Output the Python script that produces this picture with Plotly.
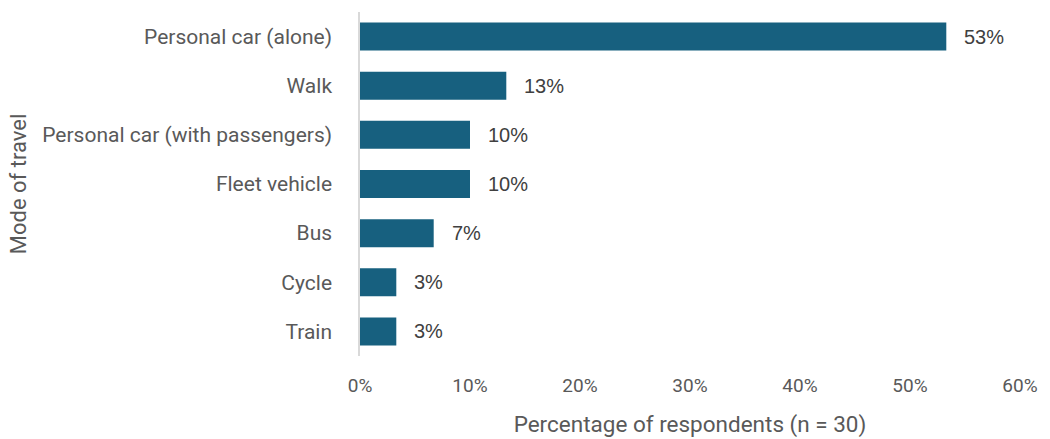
import plotly.graph_objects as go

modes = ["Personal car (alone)", "Walk", "Personal car (with passengers)",
         "Fleet vehicle", "Bus", "Cycle", "Train"]
percent = [53.3, 13.3, 10.0, 10.0, 6.7, 3.3, 3.3]
x_ticks = [0, 10, 20, 30, 40, 50, 60]
x_tick_labels = ["0%", "10%", "20%", "30%", "40%", "50%", "60%"]

bar_color = "#17607F"
text_color = "#595959"

fig = go.Figure(go.Bar(
    x=percent,
    y=modes,
    orientation="h",
    marker=dict(color=bar_color, line=dict(width=0)),
    width=0.57,
    hoverinfo="x+y",
))

# value labels placed just right of each bar end
for mode, val in zip(modes, percent):
    fig.add_annotation(
        x=val, y=mode, xref="x", yref="y",
        text=f"{val:.0f}%", showarrow=False,
        xanchor="left", xshift=16,
        font=dict(family="Liberation Sans, Arial", size=20, color="#404040"),
    )

fig.update_layout(
    width=1050, height=439,
    margin=dict(l=360, r=30, t=12, b=83),
    paper_bgcolor="white", plot_bgcolor="white",
    showlegend=False,
    font=dict(family="Roboto, sans-serif", color=text_color),
    xaxis=dict(
        range=[0, 60], tickvals=x_ticks, ticktext=x_tick_labels,
        showgrid=False, zeroline=False, showline=False,
        tickfont=dict(size=19, color=text_color),
        ticks="", ticklen=0, ticklabelstandoff=16,
        automargin=False,
        title=dict(text="Percentage of respondents (n = 30)",
                   font=dict(size=22.5, color=text_color), standoff=20),
    ),
    yaxis=dict(
        categoryorder="array", categoryarray=modes[::-1],
        showgrid=False, zeroline=False,
        showline=True, linecolor="#D9D9D9", linewidth=1.5,
        ticks="", ticklabelstandoff=22,
        automargin=False,
        tickfont=dict(size=21, color=text_color),
        title=dict(text="Mode of travel", font=dict(size=22, color=text_color),
                   standoff=10),
    ),
)

fig.write_html("out.html")
